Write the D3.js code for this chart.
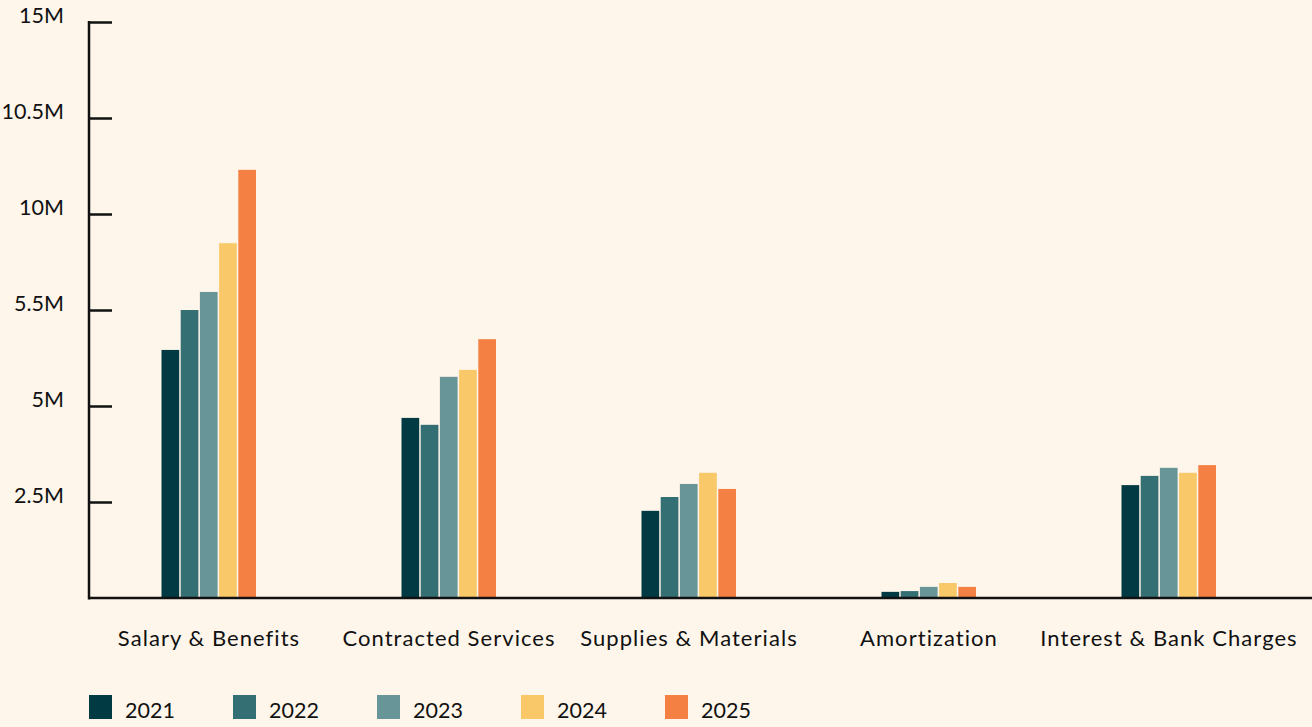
<!DOCTYPE html>
<html>
<head>
<meta charset="utf-8">
<script src="https://cdn.jsdelivr.net/npm/d3@7"></script>
<style>
  html, body { margin: 0; padding: 0; background: #fef6eb; }
  svg { display: block; }
  text { font-family: Lato, "Noto Sans", sans-serif; fill: #111; }
</style>
</head>
<body>
<svg id="chart" width="1312" height="727"></svg>
<script>
const categories = ["Salary & Benefits", "Contracted Services", "Supplies & Materials", "Amortization", "Interest & Bank Charges"];
const years = ["2021", "2022", "2023", "2024", "2025"];
const values2021 = [6.46, 4.69, 2.27, 0.16, 2.94];
const values2022 = [7.50, 4.51, 2.63, 0.18, 3.18];
const values2023 = [7.97, 5.76, 2.97, 0.29, 3.39];
const values2024 = [9.24, 5.94, 3.26, 0.39, 3.26];
const values2025 = [11.15, 6.74, 2.84, 0.29, 3.46];
const tickValues = [2.5, 5, 7.5, 10, 12.5, 15];
const tickLabels = ["2.5M", "5M", "5.5M", "10M", "10.5M", "15M"];
const colors = ["#023a44", "#346f73", "#689597", "#f9c869", "#f48043"];

const seriesValues = [values2021, values2022, values2023, values2024, values2025];
const data = categories.map((c, i) => ({ category: c, vals: years.map((yr, j) => ({ year: yr, value: seriesValues[j][i] })) }));

const svg = d3.select("#chart");
const mLeft = 89, mRight = 1289, mTop = 22, mBottom = 598;

const x0 = d3.scaleBand().domain(categories).range([mLeft, mRight]).paddingInner(0).paddingOuter(0);
const groupW = 96;
const x1 = d3.scaleBand().domain(years).range([0, groupW]).padding(0);
const y = d3.scaleLinear().domain([0, 15]).range([mBottom, mTop]);

// bars
const g = svg.append("g");
g.selectAll("g.cat").data(data).join("g")
  .attr("class", "cat")
  .attr("transform", d => `translate(${x0(d.category) + x0.bandwidth() / 2 - groupW / 2},0)`)
  .selectAll("rect").data(d => d.vals).join("rect")
  .attr("x", d => x1(d.year) + 0.5)
  .attr("width", x1.bandwidth() - 1.5)
  .attr("y", d => y(d.value))
  .attr("height", d => y(0) - y(d.value))
  .attr("fill", (d, i) => colors[i]);

// y axis
const yAxis = d3.axisRight(y).tickValues(tickValues).tickSize(23).tickFormat("");
const ya = svg.append("g").attr("transform", `translate(${mLeft},0)`).call(yAxis);
ya.select(".domain").remove();
ya.selectAll(".tick line").attr("stroke", "#111").attr("stroke-width", 2.5);
svg.append("line").attr("x1", mLeft).attr("x2", mLeft).attr("y1", mTop - 1).attr("y2", mBottom + 1.5)
  .attr("stroke", "#111").attr("stroke-width", 2.5);
svg.append("g").selectAll("text").data(tickValues).join("text")
  .attr("x", 64).attr("y", d => y(d) - 7).attr("dy", "0.35em")
  .attr("text-anchor", "end").attr("font-size", 21.5).text((d, i) => tickLabels[i]);

// x axis
svg.append("line").attr("x1", mLeft).attr("x2", 1312).attr("y1", mBottom).attr("y2", mBottom)
  .attr("stroke", "#111").attr("stroke-width", 2.5);
const xa = svg.append("g").attr("transform", `translate(0,${mBottom})`)
  .call(d3.axisBottom(x0).tickSize(0).tickPadding(0));
xa.select(".domain").remove();
xa.selectAll(".tick text").attr("y", 40).attr("dy", "0.35em").attr("font-size", 22)
  .attr("letter-spacing", 1.05)
  .style("font-family", "Lato, 'Noto Sans', sans-serif").attr("fill", "#111");

// legend
const lg = svg.append("g").selectAll("g").data(years).join("g")
  .attr("transform", (d, i) => `translate(${89 + i * 144},695)`);
lg.append("rect").attr("width", 23).attr("height", 24).attr("fill", (d, i) => colors[i]);
lg.append("text").attr("x", 36).attr("y", 15).attr("dy", "0.35em").attr("font-size", 21.5).text(d => d);
</script>
</body>
</html>
